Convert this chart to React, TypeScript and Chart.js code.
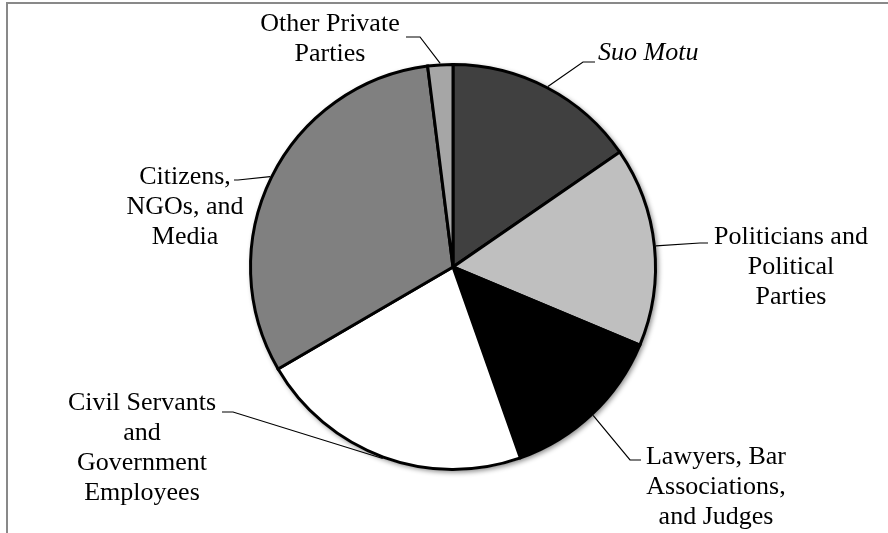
import React, { useEffect, useRef } from "react";
import { Chart, registerables } from "chart.js";

Chart.register(...registerables);

// ---- data ----
const categories = [
  "Suo Motu",
  "Politicians and Political Parties",
  "Lawyers, Bar Associations, and Judges",
  "Civil Servants and Government Employees",
  "Citizens, NGOs, and Media",
  "Other Private Parties",
];
const shares = [15.4, 15.9, 13.3, 22.0, 31.4, 2.0];
const labelLines = [
  ["Suo Motu"],
  ["Politicians and", "Political", "Parties"],
  ["Lawyers, Bar", "Associations,", "and Judges"],
  ["Civil Servants", "and", "Government", "Employees"],
  ["Citizens,", "NGOs, and", "Media"],
  ["Other Private", "Parties"],
];

// ---- styles / layout ----
const sliceColors = ["#404040", "#bfbfbf", "#000000", "#ffffff", "#808080", "#a6a6a6"];
const FONT_FAMILY = '"Liberation Serif"';
const FONT_SIZE = 26;
const LINE_H = 30;
// label layout relative to the pie centre
const labelLayout = [
  { align: "left", italic: true, x: 145, y: -214, elbow: [130, -205], tail: [142, -205] },
  { align: "center", x: 338, y: -30, elbow: [247, -24], tail: [255, -24] },
  { align: "center", x: 263, y: 190, elbow: [177, 193], tail: [188, 193] },
  { align: "center", x: -311, y: 136, elbow: [-220, 145], tail: [-231, 145] },
  { align: "center", x: -268, y: -90, elbow: [-215, -87], tail: [-219, -87] },
  { align: "center", x: -123, y: -243, elbow: [-33, -230], tail: [-47, -230] },
];

const outLabels = {
  id: "outLabels",
  beforeDatasetsDraw(chart: any) {
    const meta = chart.getDatasetMeta(0);
    const a = meta.data[0];
    if (!a) return;
    const ctx = chart.ctx;
    ctx.save();
    ctx.shadowColor = "rgba(0,0,0,0.45)";
    ctx.shadowBlur = 5;
    ctx.shadowOffsetX = 2;
    ctx.shadowOffsetY = 2;
    ctx.fillStyle = "#ffffff";
    ctx.beginPath();
    ctx.arc(a.x, a.y, a.outerRadius + 1, 0, Math.PI * 2);
    ctx.fill();
    ctx.restore();
  },
  afterDatasetsDraw(chart: any) {
    const ctx = chart.ctx;
    const meta = chart.getDatasetMeta(0);
    ctx.save();
    meta.data.forEach((arc: any, i: number) => {
      const { x, y, startAngle, endAngle, outerRadius } = arc.getProps(
        ["x", "y", "startAngle", "endAngle", "outerRadius"],
        true
      );
      const mid = (startAngle + endAngle) / 2;
      const r = outerRadius + 1.5;
      const px = x + Math.cos(mid) * r;
      const py = y + Math.sin(mid) * r;
      const L = labelLayout[i];
      ctx.strokeStyle = "#000000";
      ctx.lineWidth = 1.2;
      ctx.beginPath();
      ctx.moveTo(px, py);
      ctx.lineTo(x + L.elbow[0], y + L.elbow[1]);
      ctx.lineTo(x + L.tail[0], y + L.tail[1]);
      ctx.stroke();
      ctx.fillStyle = "#000000";
      ctx.font = `${L.italic ? "italic " : ""}${FONT_SIZE}px ${FONT_FAMILY}`;
      ctx.textAlign = L.align;
      ctx.textBaseline = "middle";
      labelLines[i].forEach((t, j) => {
        ctx.fillText(t, x + L.x, y + L.y + j * LINE_H);
      });
    });
    ctx.restore();
  },
  afterDraw(chart: any) {
    const ctx = chart.ctx;
    ctx.save();
    ctx.strokeStyle = "#898989";
    ctx.lineWidth = 2;
    ctx.beginPath();
    ctx.moveTo(7, chart.height);
    ctx.lineTo(7, 3);
    ctx.lineTo(chart.width, 3);
    ctx.stroke();
    ctx.restore();
  },
};

export default function App() {
  const ref = useRef<HTMLCanvasElement | null>(null);
  useEffect(() => {
    let chart: Chart | null = null;
    let cancelled = false;
    const make = () => {
      if (cancelled || !ref.current) return;
      chart = new Chart(ref.current, {
        type: "pie",
        data: {
          labels: categories,
          datasets: [
            {
              data: shares,
              backgroundColor: sliceColors,
              borderColor: "#000000",
              borderWidth: 3,
              borderJoinStyle: "miter",
            },
          ],
        },
        options: {
          animation: false,
          responsive: false,
          events: [],
          layout: { padding: { left: 249, right: 231, top: 63, bottom: 62 } },
          plugins: {
            legend: { display: false },
            tooltip: { enabled: false },
            title: { display: false },
          },
        },
        plugins: [outLabels],
      });
    };
    const fonts: any = (document as any).fonts;
    if (fonts && fonts.load) {
      Promise.all([
        fonts.load(`${FONT_SIZE}px "Liberation Serif"`),
        fonts.load(`italic ${FONT_SIZE}px "Liberation Serif"`),
      ])
        .catch(() => null)
        .then(make);
    } else {
      make();
    }
    return () => {
      cancelled = true;
      if (chart) chart.destroy();
    };
  }, []);
  return (
    <div style={{ position: "fixed", left: 0, top: 0, width: 888, height: 533, background: "#ffffff" }}>
      <canvas ref={ref} width={888} height={533} style={{ display: "block" }} />
    </div>
  );
}
